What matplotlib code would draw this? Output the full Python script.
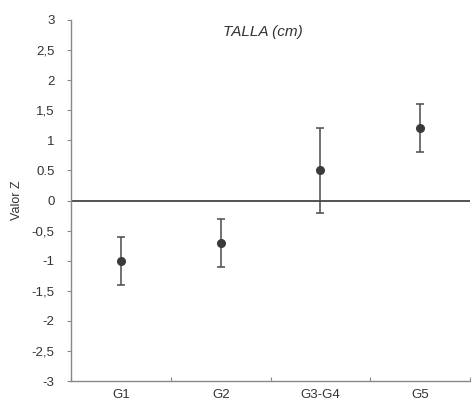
import matplotlib.pyplot as plt

groups = ['G1', 'G2', 'G3-G4', 'G5']
z_mean = [-1.0, -0.7, 0.5, 1.2]
z_err = [0.4, 0.4, 0.7, 0.4]
ytick_vals = [3, 2.5, 2, 1.5, 1, 0.5, 0, -0.5, -1, -1.5, -2, -2.5, -3]
ytick_labels = ['3', '2,5', '2', '1,5', '1', '0.5', '0', '-0,5', '-1', '-1,5', '-2', '-2,5', '-3']

plt.rcParams['font.family'] = ['Liberation Sans', 'DejaVu Sans']

fig = plt.figure(figsize=(4.71, 4.08), dpi=100)
ax = fig.add_axes([0.151, 0.066, 0.847, 0.885])

x = [i + 0.5 for i in range(len(groups))]
ax.errorbar(x, z_mean, yerr=z_err, fmt='o', color='#3a3a3a', ms=5.5,
            ecolor='#4a4a4a', elinewidth=1.1, capsize=3, capthick=1.1)
ax.axhline(0, color='#444444', lw=1.3)

ax.set_xlim(0, 4)
ax.set_ylim(-3, 3)
ax.set_yticks(ytick_vals)
ax.set_yticklabels(ytick_labels)
ax.set_xticks([0, 1, 2, 3, 4])
ax.set_xticklabels([])
ax.set_xticks(x, minor=True)
ax.set_xticklabels(groups, minor=True)
ax.tick_params(axis='x', which='minor', length=0, pad=6, labelsize=9.5, labelcolor='#333333')
ax.tick_params(axis='x', which='major', direction='in', length=3, color='#888888')
ax.tick_params(axis='y', length=3, color='#888888', labelsize=9.5, labelcolor='#333333', pad=9)

for s in ['top', 'right']:
    ax.spines[s].set_visible(False)
for s in ['left', 'bottom']:
    ax.spines[s].set_color('#888888')
    ax.spines[s].set_linewidth(1.0)

ax.set_ylabel('Valor Z', fontsize=9, color='#333333', labelpad=6)
ax.text(0.48, 0.985, 'TALLA (cm)', transform=ax.transAxes, ha='center', va='top',
        fontsize=11, style='italic', color='#333333')

fig.savefig('out.png', dpi=100)
